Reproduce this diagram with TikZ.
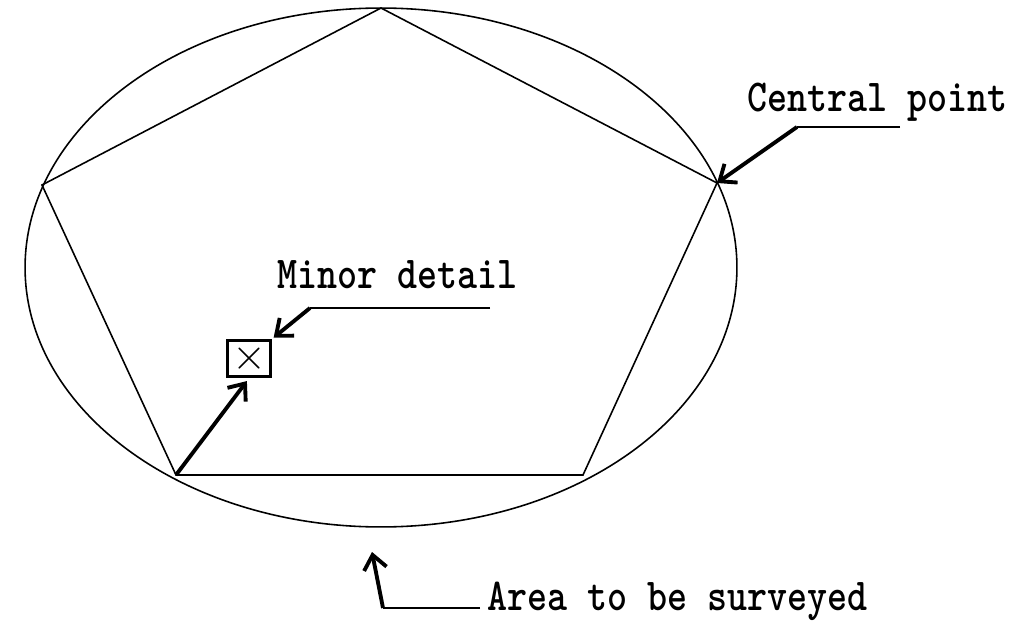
\documentclass[tikz,border=0pt]{standalone}
\usepackage{fontspec}
\usetikzlibrary{arrows.meta}

\newcommand{\tallbox}[1]{\scalebox{1}[1.2]{#1}}

\tikzset{
  outline/.style={line width=0.9pt},
  leader/.style={line width=1.2pt},
  pointer/.style={line width=2.2pt, -{Straight Barb[length=8pt,width=13pt]}},
  label text/.style={font=\ttfamily\bfseries\fontsize{21.7}{22}\selectfont, anchor=base west, inner sep=0pt},
  detail box/.style={draw, line width=2pt, minimum width=0.86cm, minimum height=0.72cm, inner sep=0pt},
}

\begin{document}
\begin{tikzpicture}[x=0.02cm,y=-0.02cm]
\useasboundingbox (0,0) rectangle (1033,621);
%zone levee
\draw[outline] (381,267.5) ellipse [x radius=7.12cm, y radius=5.19cm];

%stations du cheminement
\coordinate (A) at (381,8);
\coordinate (B) at (717,183);
\coordinate (C) at (583,475);
\coordinate (D) at (176,475);
\coordinate (E) at (42,185);
\draw[outline] (A) -- (B) -- (C) -- (D) -- (E) -- cycle;

%detail
\node[detail box] (detail) at (249,358.5) {\fontsize{27}{27}\selectfont$\times$};
\draw[pointer, shorten >=2pt] (D) -- (detail.south);

%legendes
\node[label text] (central) at (747,112) {\tallbox{Central point}};
\coordinate (central end) at (900,127);
\coordinate (central bend) at (797,127);
\draw[leader] (central end) -- (central bend);
\draw[pointer] (central bend) -- (B);

\node[label text] (minor) at (277,288) {\tallbox{Minor detail}};
\coordinate (minor end) at (490,308);
\coordinate (minor bend) at (310,308);
\draw[leader] (minor end) -- (minor bend);
\draw[pointer, shorten >=1pt] (minor bend) -- (detail.north east);

\node[label text] (area) at (487,610) {\tallbox{Area to be surveyed}};
\coordinate (area end) at (480,608);
\coordinate (area bend) at (383,608);
\coordinate (area tip) at (372,552);
\draw[leader] (area end) -- (area bend);
\draw[pointer] (area bend) -- (area tip);
\end{tikzpicture}
\end{document}
